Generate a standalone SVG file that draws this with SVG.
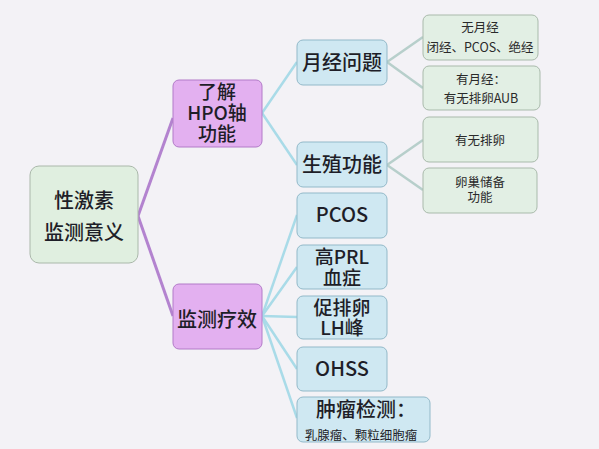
<svg xmlns="http://www.w3.org/2000/svg" width="599" height="449" viewBox="0 0 599 449">
<style>
.t{font-family:"Noto Sans CJK SC","Noto Sans",sans-serif;fill:#1e1e28;text-anchor:middle}
.big{font-size:20px;font-weight:500}
.m2{font-size:19px;font-weight:500}
.sm{font-size:12.5px;fill:#2a2a2a}
.root{fill:#e0efe0;stroke:#aab8aa;stroke-width:1}
.pur{fill:#e3b0f0;stroke:#b27ac8;stroke-width:1}
.blu{fill:#cfe8f2;stroke:#92b9c9;stroke-width:1}
.grn{fill:#e2efe4;stroke:#a9baab;stroke-width:1}
.lp{stroke:#b383cf;stroke-width:3;fill:none}
.lb{stroke:#a9dbe8;stroke-width:2.5;fill:none}
.lg{stroke:#b7cfcb;stroke-width:2.5;fill:none}
</style>
<rect width="599" height="449" fill="#f3f2f6"/>
<g id="connectors">
<path class="lp" d="M138,216 L173,118"/>
<path class="lp" d="M138,216 L173,316"/>
<path class="lb" d="M262,113 L297,62"/>
<path class="lb" d="M262,113 L297,165"/>
<path class="lb" d="M262,316 L297,215"/>
<path class="lb" d="M262,316 L297,267"/>
<path class="lb" d="M262,316 L297,317"/>
<path class="lb" d="M262,316 L297,369"/>
<path class="lb" d="M262,316 L297,418"/>
<path class="lg" d="M387,62 L423,37"/>
<path class="lg" d="M387,62 L423,88"/>
<path class="lg" d="M387,165 L423,140"/>
<path class="lg" d="M387,165 L423,190"/>
</g>
<g id="root">
<rect class="root" x="30" y="166" width="108" height="97" rx="9"/>
<text class="t big" x="84" y="208">性激素</text>
<text class="t big" x="84" y="240">监测意义</text>
</g>
<g id="hpo">
<rect class="pur" x="173" y="80" width="89" height="67" rx="6"/>
<text class="t m2" x="217" y="99">了解</text>
<text class="t m2" x="217" y="120">HPO轴</text>
<text class="t m2" x="217" y="141">功能</text>
</g>
<g id="monitor">
<rect class="pur" x="173" y="284" width="89" height="65" rx="6"/>
<text class="t big" x="217" y="327">监测疗效</text>
</g>
<g id="menses">
<rect class="blu" x="297" y="40" width="90" height="45" rx="6"/>
<text class="t big" x="342" y="70">月经问题</text>
</g>
<g id="repro">
<rect class="blu" x="297" y="142" width="90" height="45" rx="6"/>
<text class="t big" x="342" y="172">生殖功能</text>
</g>
<g id="pcos">
<rect class="blu" x="297" y="193" width="90" height="45" rx="6"/>
<text class="t big" x="342" y="222">PCOS</text>
</g>
<g id="prl">
<rect class="blu" x="297" y="245" width="90" height="44" rx="6"/>
<text class="t m2" x="342" y="264">高PRL</text>
<text class="t m2" x="342" y="285">血症</text>
</g>
<g id="lh">
<rect class="blu" x="297" y="296" width="90" height="43" rx="6"/>
<text class="t m2" x="342" y="315">促排卵</text>
<text class="t m2" x="342" y="335">LH峰</text>
</g>
<g id="ohss">
<rect class="blu" x="297" y="347" width="90" height="44" rx="6"/>
<text class="t big" x="342" y="376">OHSS</text>
</g>
<g id="tumor">
<rect class="blu" x="297" y="397" width="133" height="45" rx="6"/>
<text class="t big" x="366" y="417">肿瘤检测：</text>
<text class="t" style="font-size:12.5px" x="361" y="440">乳腺瘤、颗粒细胞瘤</text>
</g>
<g id="amen">
<rect class="grn" x="423" y="15" width="115" height="45" rx="6"/>
<text class="t sm" x="480" y="32">无月经</text>
<text class="t sm" x="480" y="52">闭经、PCOS、绝经</text>
</g>
<g id="mens">
<rect class="grn" x="423" y="66" width="117" height="44" rx="6"/>
<text class="t sm" x="481" y="84">有月经：</text>
<text class="t sm" x="481" y="103">有无排卵AUB</text>
</g>
<g id="ovul">
<rect class="grn" x="423" y="117" width="115" height="45" rx="6"/>
<text class="t sm" x="480" y="145">有无排卵</text>
</g>
<g id="reserve">
<rect class="grn" x="423" y="168" width="114" height="45" rx="6"/>
<text class="t sm" x="480" y="187">卵巢储备</text>
<text class="t sm" x="480" y="202">功能</text>
</g>
</svg>
